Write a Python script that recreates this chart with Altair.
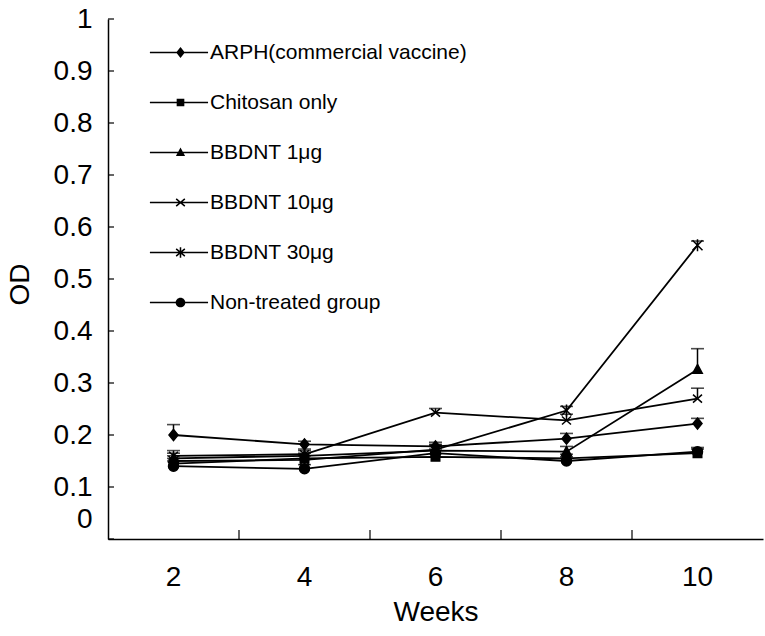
import altair as alt
import pandas as pd

weeks = [2, 4, 6, 8, 10]
groups = ["ARPH(commercial vaccine)", "Chitosan only", "BBDNT 1μg",
          "BBDNT 10μg", "BBDNT 30μg", "Non-treated group"]

arph = [0.200, 0.182, 0.178, 0.193, 0.222]
chitosan = [0.145, 0.155, 0.158, 0.155, 0.165]
bbdnt1 = [0.155, 0.160, 0.170, 0.168, 0.326]
bbdnt10 = [0.160, 0.163, 0.243, 0.228, 0.270]
bbdnt30 = [0.150, 0.152, 0.172, 0.247, 0.565]
nontreated = [0.140, 0.135, 0.165, 0.150, 0.168]

err_arph = [0.020, 0.006, 0.008, 0.010, 0.010]
err_chitosan = [0.010, 0.010, 0.020, 0.008, 0.008]
err_bbdnt1 = [0.010, 0.010, 0.010, 0.010, 0.040]
err_bbdnt10 = [0.010, 0.010, 0.008, 0.012, 0.020]
err_bbdnt30 = [0.010, 0.008, 0.010, 0.008, 0.008]
err_nontreated = [0.010, 0.008, 0.008, 0.008, 0.008]

od_ticks = [0, 0.1, 0.2, 0.3, 0.4, 0.5, 0.6, 0.7, 0.8, 0.9, 1]
boundary_weeks = [4, 6, 8, 10]

series = [arph, chitosan, bbdnt1, bbdnt10, bbdnt30, nontreated]
errors = [err_arph, err_chitosan, err_bbdnt1, err_bbdnt10, err_bbdnt30, err_nontreated]

rows = []
for g, vals, errs in zip(groups, series, errors):
    for w, v, e in zip(weeks, vals, errs):
        rows.append({"week": w, "group": g, "od": v, "top": v + e})
df = pd.DataFrame(rows)

plot_paths = [
    "M0,-1.1L0.9,0L0,1.1L-0.9,0Z",
    "M-0.85,-0.85L0.85,-0.85L0.85,0.85L-0.85,0.85Z",
    "M0,-1L0.95,0.75L-0.95,0.75Z",
    "M-0.9,-0.8L0.9,0.8M-0.9,0.8L0.9,-0.8",
    "M-1,-1L1,1M-1,1L1,-1M0,-1.2L0,1.2",
    "M-1,0A1,1,0,1,1,1,0A1,1,0,1,1,-1,0Z",
]
# legend glyphs: line + marker, drawn as filled shapes (same winding)
ln = "M-1.2,-0.03L-1.2,0.03L1.08,0.03L1.08,-0.03Z"
xbars = ("M-0.189,-0.117L0.151,0.163L0.189,0.117L-0.151,-0.163Z"
         "M-0.151,0.163L0.189,-0.117L0.151,-0.163L-0.189,0.117Z")
legend_paths = [
    ln + "M0,-0.22L-0.17,0L0,0.22L0.17,0Z",
    ln + "M-0.15,-0.15L-0.15,0.15L0.15,0.15L0.15,-0.15Z",
    ln + "M0,-0.2L-0.18,0.14L0.18,0.14Z",
    ln + xbars,
    ln + xbars + "M-0.03,-0.21L-0.03,0.21L0.03,0.21L0.03,-0.21Z",
    ln + "M-0.19,0A0.19,0.19,0,1,0,0.19,0A0.19,0.19,0,1,0,-0.19,0Z",
]

FONT = "Liberation Sans"

x_enc = alt.X("week:O",
              scale=alt.Scale(type="band", paddingInner=0, paddingOuter=0),
              axis=alt.Axis(title="Weeks", labelAngle=0, ticks=False,
                            labelPadding=24, titlePadding=7))
y_enc = alt.Y("od:Q", scale=alt.Scale(domain=[0, 1]),
              axis=alt.Axis(title="OD", values=od_ticks, format="~g",
                            ticks=False, grid=False, labelPadding=16,
                            labelOffset={"condition": {"test": "datum.value == 0", "value": -20},
                                         "value": 0},
                            titleX=-88, titleY=265, titleAngle=-90,
                            titleAlign="center", titleBaseline="middle"))

base = alt.Chart(df)

lines = base.mark_line(color="black", strokeWidth=1.8).encode(
    x=x_enc, y=y_enc, detail="group:N")

err_rules = base.mark_rule(color="black", strokeWidth=1.5).encode(
    x="week:O", y="od:Q", y2="top:Q")
err_caps = base.mark_tick(color="black", thickness=1.6, size=13).encode(
    x="week:O", y="top:Q")

points = base.mark_point(filled=False, color="black", fill="black", stroke="black",
                         strokeWidth=1.5, opacity=1, fillOpacity=1, size=100).encode(
    x="week:O", y="od:Q",
    shape=alt.Shape("group:N", scale=alt.Scale(domain=groups, range=plot_paths),
                    legend=None))

legend_layer = base.transform_filter("false").mark_point(
    filled=True, color="black", opacity=1).encode(
    x="week:O", y="od:Q",
    shape=alt.Shape("group:N",
                    scale=alt.Scale(domain=groups, range=legend_paths),
                    legend=alt.Legend(title=None, orient="none", legendX=47, legendY=8,
                                      symbolSize=2601, labelFont=FONT, labelFontSize=21,
                                      labelColor="black", labelOffset=4, rowPadding=14,
                                      padding=0, symbolStrokeWidth=0,
                                      symbolFillColor="black",
                                      symbolOpacity=1, labelLimit=400)))

ytick_df = pd.DataFrame({"od": od_ticks})
yticks = alt.Chart(ytick_df).mark_rule(color="black", strokeWidth=1.2).encode(
    y="od:Q", x=alt.value(0), x2=alt.value(6))

xtick_df = pd.DataFrame({"week": boundary_weeks})
xticks = alt.Chart(xtick_df).mark_rule(color="black", strokeWidth=1.2).encode(
    x=alt.X("week:O", bandPosition=0), y=alt.value(520), y2=alt.value(511))

chart = alt.layer(lines, err_rules, err_caps, points, legend_layer, yticks, xticks).resolve_scale(
    shape="independent"
).properties(
    width=655, height=520,
    autosize=alt.AutoSizeParams(type="none"),
    padding={"left": 108, "top": 19, "right": 2, "bottom": 97},
    background="white",
).configure_view(stroke=None).configure_axis(
    domainColor="black", domainWidth=1.5,
    labelFont=FONT, labelFontSize=28, labelColor="black",
    titleFont=FONT, titleFontSize=28, titleFontWeight="normal", titleColor="black",
    grid=False,
)

chart.save("out.html", embed_options={"renderer": "svg", "actions": False})
